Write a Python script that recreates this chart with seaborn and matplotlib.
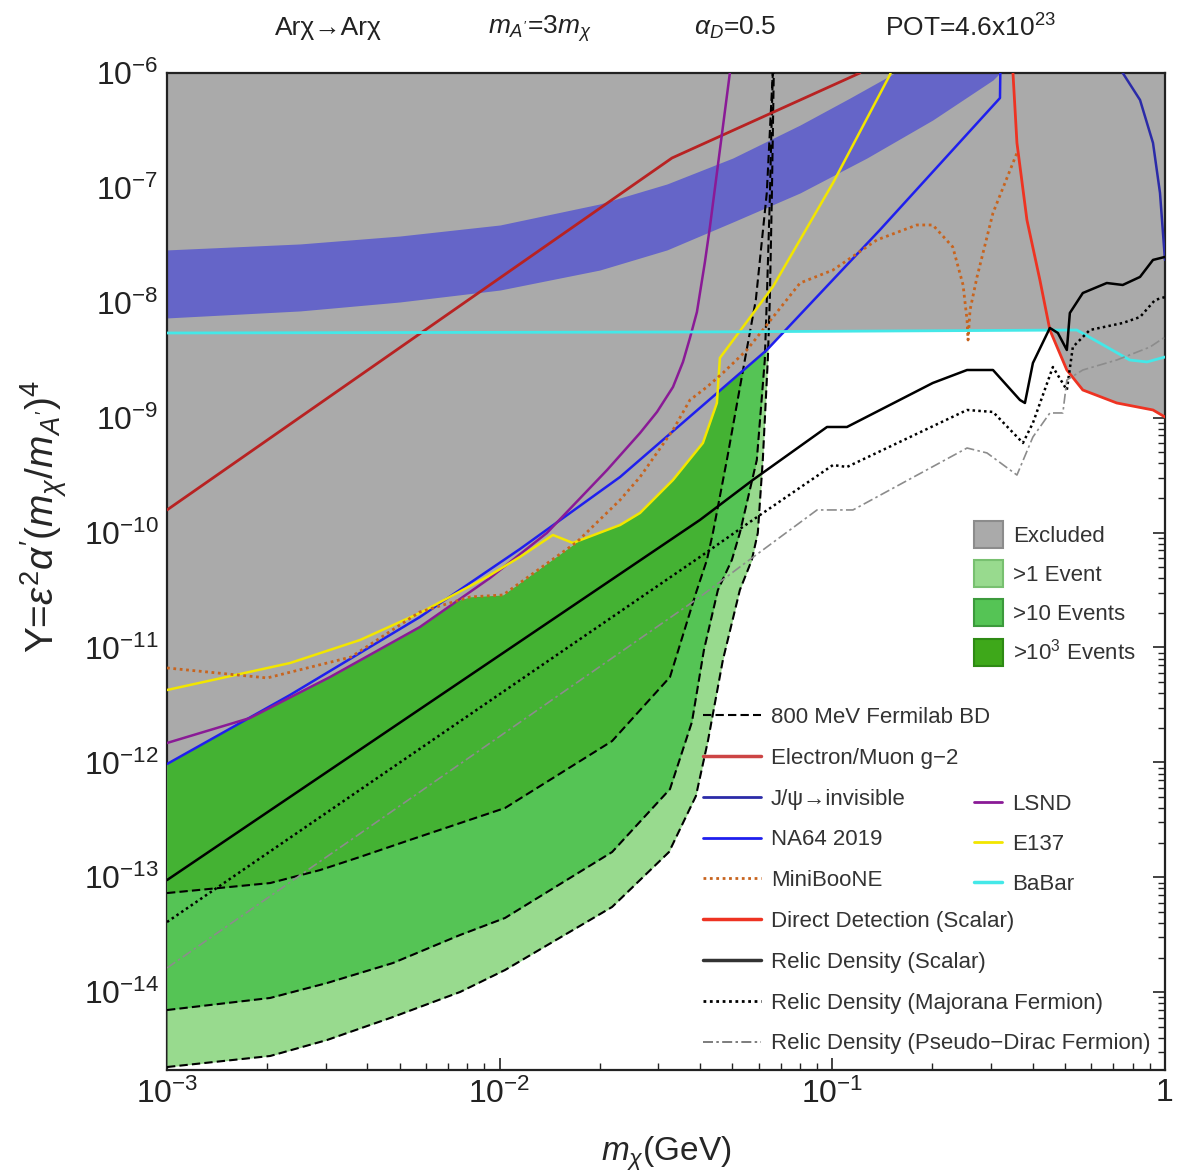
import numpy as np
import matplotlib
matplotlib.use("Agg")
import matplotlib.pyplot as plt
import seaborn as sns
from matplotlib.lines import Line2D
from matplotlib.patches import Patch
from matplotlib.ticker import LogLocator, FixedLocator, FixedFormatter, NullFormatter

# Every curve as (log10 m_chi [GeV], log10 Y)

# Electron/Muon g-2
g2_lm = [-3.0, -1.482, -0.917]
g2_lY = [-9.803, -6.740, -6.0]

# favoured band (blue)
band_lo_lm = [-3.0, -2.600, -2.300, -1.999, -1.699, -1.497, -1.299, -1.097, -0.896,
              -0.698, -0.517, -0.496]
band_lo_lY = [-8.132, -8.071, -7.993, -7.889, -7.715, -7.540, -7.297, -7.044, -6.740,
              -6.409, -6.061, -6.0]
band_hi_lm = [-3.0, -2.600, -2.300, -1.999, -1.699, -1.497, -1.299, -1.097, -0.947,
              -0.866, -0.812]
band_hi_lY = [-7.540, -7.488, -7.419, -7.323, -7.140, -6.966, -6.740, -6.453, -6.218,
              -6.087, -6.0]

# NA64 2019
na64_lm = [-3.0, -2.630, -2.240, -1.939, -1.638, -1.197, -0.857, -0.496, -0.495]
na64_lY = [-12.014, -11.413, -10.735, -10.143, -9.516, -8.411, -7.366, -6.218, -6.0]

# LSND
lsnd_lm = [-3.0, -2.751, -2.510, -2.240, -2.029, -1.858, -1.677, -1.578, -1.527, -1.479,
           -1.449, -1.428, -1.407, -1.383, -1.368, -1.338, -1.308]
lsnd_lY = [-11.831, -11.614, -11.257, -10.822, -10.395, -10.003, -9.455, -9.133, -8.950,
           -8.733, -8.515, -8.306, -8.080, -7.645, -7.340, -6.670, -6.0]

# E137
e137_lm = [-3.0, -2.630, -2.420, -2.240, -2.038, -1.939, -1.840, -1.780, -1.638,
           -1.578, -1.479, -1.389, -1.347, -1.338, -1.179, -0.998, -0.827, -0.825]
e137_lY = [-11.370, -11.135, -10.935, -10.700, -10.386, -10.212, -10.021, -10.090,
           -9.934, -9.829, -9.542, -9.220, -8.872, -8.480, -7.862, -6.957, -6.017, -6.0]

# MiniBooNE
mb_lm = [-3.0, -2.699, -2.447, -2.240, -2.089, -1.990, -1.768, -1.638, -1.578, -1.479,
         -1.428, -1.377, -1.329, -1.257, -1.197, -1.097, -0.998, -0.866, -0.746, -0.698,
         -0.638, -0.607, -0.595, -0.592, -0.586, -0.565, -0.517, -0.445]
mb_lY = [-11.178, -11.265, -11.083, -10.691, -10.560, -10.543, -10.082, -9.716, -9.516,
         -9.107, -8.846, -8.733, -8.611, -8.411, -8.193, -7.828, -7.715, -7.453, -7.323,
         -7.323, -7.514, -7.845, -8.150, -8.324, -8.063, -7.775, -7.218, -6.696]

# BaBar
babar_lm = [-3.0, -1.398, -0.265, -0.196, -0.106, -0.054, 0.0]
babar_lY = [-8.263, -8.254, -8.237, -8.350, -8.498, -8.515, -8.472]

# Direct Detection (Scalar)
dd_lm = [-0.457, -0.445, -0.415, -0.376, -0.346, -0.295, -0.247, -0.145, -0.036, 0.0]
dd_lY = [-6.0, -6.609, -7.279, -7.802, -8.237, -8.585, -8.759, -8.872, -8.933, -8.994]

# J/psi -> invisible
jpsi_lm = [-0.127, -0.075, -0.036, -0.015, 0.0]
jpsi_lY = [-6.0, -6.235, -6.609, -7.044, -7.627]

# relic density targets
rs_lm = [-3.0, -1.398, -1.239, -1.016, -0.956, -0.698, -0.595, -0.517, -0.436, -0.421,
         -0.397, -0.346, -0.322, -0.295, -0.286, -0.247, -0.175, -0.127, -0.075, -0.036, 0.0]
rs_lY = [-13.024, -9.890, -9.542, -9.081, -9.081, -8.698, -8.585, -8.585, -8.846, -8.872,
         -8.524, -8.219, -8.263, -8.411, -8.089, -7.915, -7.828, -7.845, -7.775, -7.627, -7.601]
rm_lm = [-3.0, -1.398, -1.239, -0.998, -0.956, -0.595, -0.517, -0.427, -0.397, -0.337,
         -0.295, -0.277, -0.226, -0.127, -0.075, -0.030, 0.0]
rm_lY = [-13.389, -10.212, -9.890, -9.412, -9.429, -8.933, -8.950, -9.220, -9.046, -8.559,
         -8.759, -8.385, -8.237, -8.176, -8.124, -7.976, -7.950]
rp_lm = [-3.0, -1.398, -1.278, -1.046, -0.938, -0.595, -0.535, -0.445, -0.397, -0.346,
         -0.307, -0.295, -0.247, -0.145, -0.045, 0.0]
rp_lY = [-13.789, -10.560, -10.299, -9.803, -9.803, -9.264, -9.307, -9.499, -9.168, -8.959,
         -8.959, -8.672, -8.585, -8.498, -8.385, -8.298]

# 800 MeV Fermilab BD event contours
c1_lm = [-3.0, -2.690, -2.519, -2.321, -2.119, -1.984, -1.662, -1.491, -1.410, -1.374,
         -1.329, -1.278, -1.242, -1.224, -1.209, -1.194, -1.188, -1.182, -1.176]
c1_lY = [-14.651, -14.555, -14.416, -14.216, -13.998, -13.807, -13.258, -12.780, -12.292,
         -11.814, -11.109, -10.500, -10.238, -10.003, -9.368, -8.498, -7.976, -7.105, -6.0]
c2_lm = [-3.0, -2.690, -2.519, -2.321, -2.119, -1.984, -1.662, -1.488, -1.422, -1.386,
         -1.344, -1.302, -1.278, -1.227, -1.203, -1.197, -1.188, -1.179]
c2_lY = [-14.155, -14.050, -13.920, -13.746, -13.502, -13.354, -12.780, -12.232, -11.648,
         -11.022, -10.500, -10.238, -10.003, -9.368, -8.498, -7.976, -7.105, -6.0]
c3_lm = [-3.0, -2.690, -2.540, -2.420, -2.270, -1.984, -1.662, -1.488, -1.410, -1.377,
         -1.359, -1.317, -1.263, -1.230, -1.197, -1.179]
c3_lY = [-13.137, -13.050, -12.937, -12.823, -12.675, -12.397, -11.814, -11.257, -10.526,
         -10.238, -10.003, -9.368, -8.498, -7.976, -7.044, -6.0]

x_ticks = [1e-3, 1e-2, 1e-1, 1]
x_tick_labels = [r"$10^{-3}$", r"$10^{-2}$", r"$10^{-1}$", "1"]
y_ticks = [10.0 ** k for k in range(-14, -5)]

top_texts = ["Ar\u03c7\u2192Ar\u03c7", r"$m_{A'}$=3$m_{\chi}$", r"$\alpha_D$=0.5", r"POT=4.6x10$^{23}$"]
top_x = [0.2775, 0.457, 0.622, 0.821]

# colours
gray_c = "#aaaaaa"
band_c = "#6565c8"
light_c, mid_c, dark_c = "#98da8e", "#55c455", "#44b233"
g2_c, jpsi_c, na64_c = "#b82222", "#2b2ba8", "#1f1fee"
mb_c, dd_c, lsnd_c = "#c8641e", "#ee3322", "#8a1a96"
e137_c, babar_c, pd_c = "#f2e600", "#44e8e8", "#8c8c8c"

sns.set_style("ticks")
plt.rcParams["font.family"] = ["Liberation Sans", "DejaVu Sans"]
plt.rcParams["mathtext.fontset"] = "custom"
plt.rcParams["mathtext.rm"] = "Liberation Sans"
plt.rcParams["mathtext.it"] = "Liberation Sans:italic"
plt.rcParams["mathtext.bf"] = "Liberation Sans:bold"

fig = plt.figure(figsize=(11.82, 11.73), dpi=100)
ax = fig.add_axes([0.1413, 0.0878, 0.8443, 0.850])
ax.set_xscale("log")
ax.set_yscale("log")
ax.set_xlim(1e-3, 1)
ax.set_ylim(10 ** -14.677, 1e-6)

# common grid to build the excluded envelope and the event regions
lg = np.linspace(-3, 0, 6001)
xg = 10 ** lg


def on_grid(lm, lY):
    return np.interp(lg, lm, lY, left=1.0, right=1.0)


mb_grid = np.where(lg < -1.0, on_grid(mb_lm, mb_lY), 1.0)
env = np.minimum.reduce([on_grid(na64_lm, na64_lY), on_grid(lsnd_lm, lsnd_lY),
                         on_grid(e137_lm, e137_lY), mb_grid,
                         on_grid(babar_lm, babar_lY), on_grid(dd_lm, dd_lY)])

ax.fill_between(xg, 10 ** env, 1e-6, color=gray_c, lw=0, zorder=1)

bmask = lg <= -0.496
ax.fill_between(xg[bmask], 10 ** np.interp(lg[bmask], band_lo_lm, band_lo_lY),
                10 ** np.interp(lg[bmask], band_hi_lm, band_hi_lY),
                color=band_c, lw=0, zorder=2)

for (lm, lY), col, z in [((c1_lm, c1_lY), light_c, 3), ((c2_lm, c2_lY), mid_c, 4),
                         ((c3_lm, c3_lY), dark_c, 5)]:
    cg = on_grid(lm, lY)
    ax.fill_between(xg, 10 ** cg, 10 ** env, where=cg < env, interpolate=True,
                    color=col, lw=0, zorder=z)


def curve(lm, lY, color, lw=1.8, ls="-", z=7):
    sns.lineplot(x=10 ** np.asarray(lm), y=10 ** np.asarray(lY), ax=ax, sort=False,
                 estimator=None, legend=False, color=color, linewidth=lw,
                 linestyle=ls, zorder=z)


dash = (0, (4, 2))
dots = (0, (1, 1.3))
dashdot = (0, (6, 2, 1.5, 2))

for lm, lY in [(c1_lm, c1_lY), (c2_lm, c2_lY), (c3_lm, c3_lY)]:
    curve(lm, lY, "k", lw=1.5, ls=dash, z=6)

curve(g2_lm, g2_lY, g2_c, lw=2.0)
curve(na64_lm, na64_lY, na64_c)
curve(jpsi_lm, jpsi_lY, jpsi_c)
curve(lsnd_lm, lsnd_lY, lsnd_c)
curve(e137_lm, e137_lY, e137_c)
curve(mb_lm, mb_lY, mb_c, lw=2.0, ls=dots)
curve(babar_lm, babar_lY, babar_c, lw=2.0)
curve(dd_lm, dd_lY, dd_c, lw=2.0)
curve(rs_lm, rs_lY, "k", lw=1.8, z=8)
curve(rm_lm, rm_lY, "k", lw=1.8, ls=dots, z=8)
curve(rp_lm, rp_lY, pd_c, lw=1.2, ls=dashdot, z=8)

# axes, ticks
for s in ax.spines.values():
    s.set_linewidth(1.6)
    s.set_color("#222222")
ax.xaxis.set_major_locator(FixedLocator(x_ticks))
ax.xaxis.set_major_formatter(FixedFormatter(x_tick_labels))
ax.xaxis.set_minor_locator(LogLocator(base=10, subs=np.arange(2, 10), numticks=100))
ax.xaxis.set_minor_formatter(NullFormatter())
ax.yaxis.set_major_locator(FixedLocator(y_ticks))
ax.yaxis.set_major_formatter(FixedFormatter([r"$10^{%d}$" % k for k in range(-14, -5)]))
ax.yaxis.set_minor_locator(LogLocator(base=10, subs=np.arange(2, 10), numticks=100))
ax.yaxis.set_minor_formatter(NullFormatter())
ax.tick_params(which="both", direction="in", top=True, right=True, colors="#222222")
ax.tick_params(which="major", length=9, width=1.2, labelsize=23, pad=6)
ax.tick_params(which="minor", length=5, width=1.0)

ax.set_xlabel(r"$m_{\chi}$(GeV)", fontsize=24, labelpad=18)
ax.set_ylabel(r"Y=$\epsilon^{2}\alpha'(m_{\chi}/m_{A'})^{4}$", fontsize=28)
ax.yaxis.set_label_coords(-0.098, 0.555)

for t, x in zip(top_texts, top_x):
    fig.text(x, 0.976, t, fontsize=19, ha="center", va="center", color="#222222")

# legends
h_lines = [
    Line2D([], [], color="k", lw=1.5, ls=dash, label="800 MeV Fermilab BD"),
    Line2D([], [], color="#cc4444", lw=2.5, label="Electron/Muon g\u22122"),
    Line2D([], [], color=jpsi_c, lw=2.0, label="J/\u03c8\u2192invisible"),
    Line2D([], [], color=na64_c, lw=2.0, label="NA64 2019"),
    Line2D([], [], color=mb_c, lw=2.0, ls=dots, label="MiniBooNE"),
    Line2D([], [], color=dd_c, lw=2.5, label="Direct Detection (Scalar)"),
    Line2D([], [], color="#333333", lw=2.5, label="Relic Density (Scalar)"),
    Line2D([], [], color="k", lw=2.0, ls=dots, label="Relic Density (Majorana Fermion)"),
    Line2D([], [], color="#666666", lw=1.2, ls=dashdot, label="Relic Density (Pseudo\u2212Dirac Fermion)"),
]
leg1 = ax.legend(handles=h_lines, loc="upper left", bbox_to_anchor=(0.537, 0.364),
                 frameon=False, fontsize=16, handlelength=2.6, handletextpad=0.45,
                 labelspacing=0.89, borderpad=0, borderaxespad=0)
for t in leg1.get_texts():
    t.set_color("#333333")
leg1.set_zorder(20)
ax.add_artist(leg1)

h_lines2 = [
    Line2D([], [], color=lsnd_c, lw=2.0, label="LSND"),
    Line2D([], [], color=e137_c, lw=2.0, label="E137"),
    Line2D([], [], color=babar_c, lw=2.5, label="BaBar"),
]
leg2 = ax.legend(handles=h_lines2, loc="upper left", bbox_to_anchor=(0.809, 0.277),
                 frameon=False, fontsize=16, handlelength=1.25, handletextpad=0.45,
                 labelspacing=0.85, borderpad=0, borderaxespad=0)
for t in leg2.get_texts():
    t.set_color("#333333")
leg2.set_zorder(20)
ax.add_artist(leg2)

h_patch = [
    Patch(facecolor=gray_c, edgecolor="#8c8c8c", lw=1.5, label="Excluded"),
    Patch(facecolor=light_c, edgecolor="#78c070", lw=1.5, label=">1 Event"),
    Patch(facecolor=mid_c, edgecolor="#3c9a3c", lw=1.5, label=">10 Events"),
    Patch(facecolor="#3ea81a", edgecolor="#2e8a14", lw=1.5, label=r">10$^{3}$ Events"),
]
leg3 = ax.legend(handles=h_patch, loc="upper left", bbox_to_anchor=(0.809, 0.551),
                 frameon=False, fontsize=16, handlelength=1.3, handleheight=1.5,
                 handletextpad=0.45, labelspacing=0.55, borderpad=0, borderaxespad=0)
for t in leg3.get_texts():
    t.set_color("#333333")
leg3.set_zorder(20)

fig.savefig("out.png", dpi=100)
